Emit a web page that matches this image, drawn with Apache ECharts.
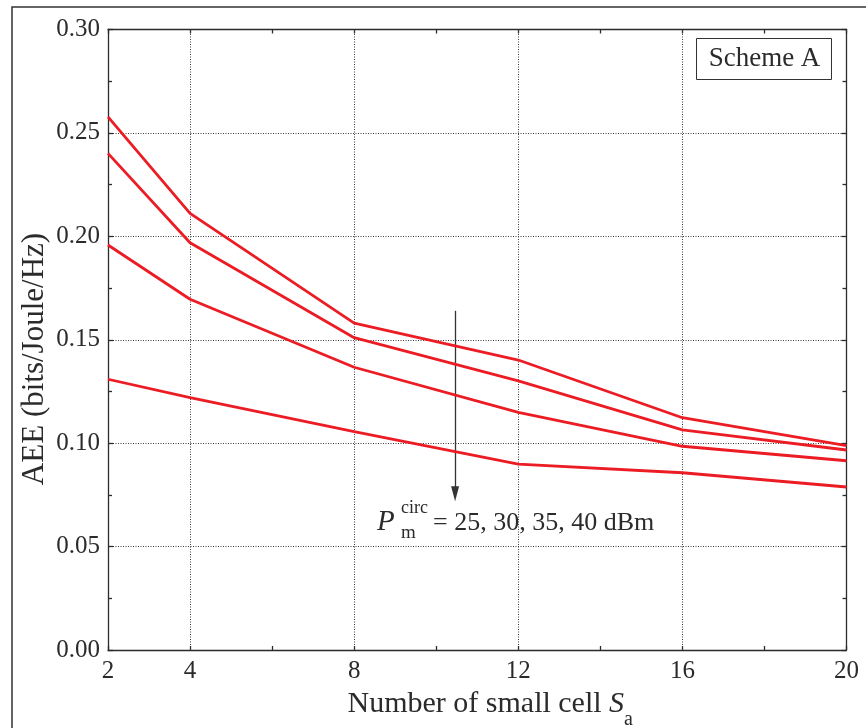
<!DOCTYPE html>
<html>
<head>
<meta charset="utf-8">
<script src="https://cdn.jsdelivr.net/npm/echarts@6/dist/echarts.min.js"></script>
<style>
  html, body { margin: 0; padding: 0; background: #ffffff; }
  #chart { width: 866px; height: 728px; }
</style>
</head>
<body>
<div id="chart"></div>
<script>
// Number of small cells S_a (x positions of the curves)
const smallCells = [2, 4, 8, 12, 16, 20];

// AEE (bits/Joule/Hz) for each circuit power level P_m^circ
const aee25dBm = [0.2578, 0.2111, 0.1580, 0.1402, 0.1123, 0.0988];
const aee30dBm = [0.2401, 0.1969, 0.1510, 0.1301, 0.1064, 0.0967];
const aee35dBm = [0.1958, 0.1696, 0.1367, 0.1149, 0.0985, 0.0915];
const aee40dBm = [0.1309, 0.1220, 0.1056, 0.0899, 0.0857, 0.0788];
const seriesNames = ['25 dBm', '30 dBm', '35 dBm', '40 dBm'];

// Axis ticks
const xLabelValues = [2, 4, 8, 12, 16, 20];
const xGridValues = [4, 8, 12, 16];
const yTickLabels = ['0.00', '0.05', '0.10', '0.15', '0.20', '0.25', '0.30'];

// Arrow showing increasing circuit power (x, y from, y to)
const arrowX = 10.46;
const arrowFromY = 0.1640;
const arrowToY = 0.0755;

const SERIF = '"Liberation Serif", "DejaVu Serif", serif';
const INK = '#2b2b2b';
const RED = '#ec1c24';

const chart = echarts.init(document.getElementById('chart'), null, { renderer: 'canvas' });

const curves = [aee25dBm, aee30dBm, aee35dBm, aee40dBm].map((vals, i) => ({
  name: seriesNames[i],
  type: 'line',
  xAxisIndex: 0,
  yAxisIndex: 0,
  symbol: 'none',
  z: 5,
  silent: true,
  lineStyle: { color: RED, width: 2.8 },
  data: smallCells.map((x, j) => [x, vals[j]])
}));

const axisLineStyle = { color: INK, width: 1.3 };

const option = {
  animation: false,
  backgroundColor: '#ffffff',
  grid: {
    left: 108, top: 29.5, right: 19.5, bottom: 78,
    containLabel: false, outerBoundsMode: 'none'
  },
  xAxis: [
    {
      type: 'value', position: 'bottom', min: 2, max: 20, interval: 2,
      axisLine: { show: true, onZero: false, lineStyle: axisLineStyle },
      axisTick: { show: true, inside: true, length: 4, lineStyle: axisLineStyle },
      splitLine: { show: false },
      axisLabel: {
        show: true, margin: 9, color: INK, fontFamily: SERIF, fontSize: 25,
        formatter: v => (xLabelValues.indexOf(v) >= 0 ? String(v) : '')
      },
      name: '{t|Number of small cell }{i|S}{s|a}',
      nameLocation: 'middle', nameGap: 16,
      nameTextStyle: {
        padding: [0, 0, 0, 26],
        rich: {
          t: { fontFamily: SERIF, fontSize: 30, color: INK, lineHeight: 52, verticalAlign: 'middle' },
          i: { fontFamily: SERIF, fontSize: 30, fontStyle: 'italic', color: INK, lineHeight: 52, verticalAlign: 'middle' },
          s: { fontFamily: SERIF, fontSize: 20, color: INK, lineHeight: 18, verticalAlign: 'bottom' }
        }
      }
    },
    {
      type: 'value', position: 'top', min: 2, max: 20, interval: 2,
      axisLine: { show: true, onZero: false, lineStyle: axisLineStyle },
      axisTick: { show: true, inside: true, length: 4, lineStyle: axisLineStyle },
      axisLabel: { show: false },
      splitLine: { show: false }
    }
  ],
  yAxis: [
    {
      type: 'value', position: 'left', min: 0, max: 0.3, interval: 0.05,
      axisLine: { show: true, onZero: false, lineStyle: axisLineStyle },
      axisTick: { show: true, inside: true, length: 5, lineStyle: axisLineStyle },
      minorTick: { show: true, splitNumber: 2, length: 4, lineStyle: axisLineStyle },
      splitLine: { show: true, lineStyle: { color: '#3a3a3a', width: 1, type: [1, 1.5] } },
      axisLabel: {
        margin: 8, color: INK, fontFamily: SERIF, fontSize: 25,
        formatter: v => yTickLabels[Math.round(v / 0.05)]
      }
    },
    {
      type: 'value', position: 'right', min: 0, max: 0.3, interval: 0.05,
      axisLine: { show: true, onZero: false, lineStyle: axisLineStyle },
      axisTick: { show: true, inside: true, length: 5, lineStyle: axisLineStyle },
      minorTick: { show: true, splitNumber: 2, length: 4, lineStyle: axisLineStyle },
      axisLabel: { show: false },
      splitLine: { show: false }
    }
  ],
  series: [
    {
      // vertical dotted grid lines at the labelled x positions
      name: 'xgrid', type: 'line', data: [], z: 1, silent: true,
      markLine: {
        silent: true, symbol: ['none', 'none'], animation: false,
        label: { show: false },
        lineStyle: { color: '#3a3a3a', width: 1, type: [1, 1.5] },
        data: xGridValues.map(v => ({ xAxis: v }))
      }
    },
    ...curves,
    {
      name: 'arrow', type: 'line', data: [], z: 6, silent: true,
      markLine: {
        silent: true, animation: false,
        symbol: ['none', 'triangle'], symbolSize: [8, 15],
        label: { show: false },
        lineStyle: { color: '#333333', width: 1.3, type: 'solid' },
        data: [[{ coord: [arrowX, arrowFromY] }, { coord: [arrowX, arrowToY] }]]
      }
    }
  ],
  graphic: [
    {
      type: 'rect', silent: true, z: -10,
      shape: { x: 12, y: 7, width: 900, height: 800 },
      style: { fill: 'none', stroke: '#333333', lineWidth: 1.5 }
    },
    {
      // y-axis title, reading bottom to top
      type: 'text', silent: true, z: 21, x: 35, y: 359, rotation: Math.PI / 2,
      style: { text: 'AEE (bits/Joule/Hz)', font: '31px ' + SERIF, fill: INK, align: 'center', verticalAlign: 'middle' }
    },
    {
      type: 'rect', silent: true, z: 20,
      shape: { x: 696.5, y: 38.5, width: 135, height: 41 },
      style: { fill: '#ffffff', stroke: '#333333', lineWidth: 1 }
    },
    {
      type: 'text', silent: true, z: 21, x: 764.5, y: 59,
      style: { text: 'Scheme A', font: '27px ' + SERIF, fill: INK, align: 'center', verticalAlign: 'middle' }
    },
    {
      type: 'text', silent: true, z: 21, x: 377, y: 522,
      style: { text: 'P', font: 'italic 29px ' + SERIF, fill: INK, align: 'left', verticalAlign: 'middle' }
    },
    {
      type: 'text', silent: true, z: 21, x: 401, y: 508,
      style: { text: 'circ', font: '18px ' + SERIF, fill: INK, align: 'left', verticalAlign: 'middle' }
    },
    {
      type: 'text', silent: true, z: 21, x: 401, y: 533,
      style: { text: 'm', font: '19px ' + SERIF, fill: INK, align: 'left', verticalAlign: 'middle' }
    },
    {
      type: 'text', silent: true, z: 21, x: 433, y: 523,
      style: { text: '= 25, 30, 35, 40 dBm', font: '26px ' + SERIF, fill: INK, align: 'left', verticalAlign: 'middle' }
    }
  ]
};

chart.setOption(option);
</script>
</body>
</html>
